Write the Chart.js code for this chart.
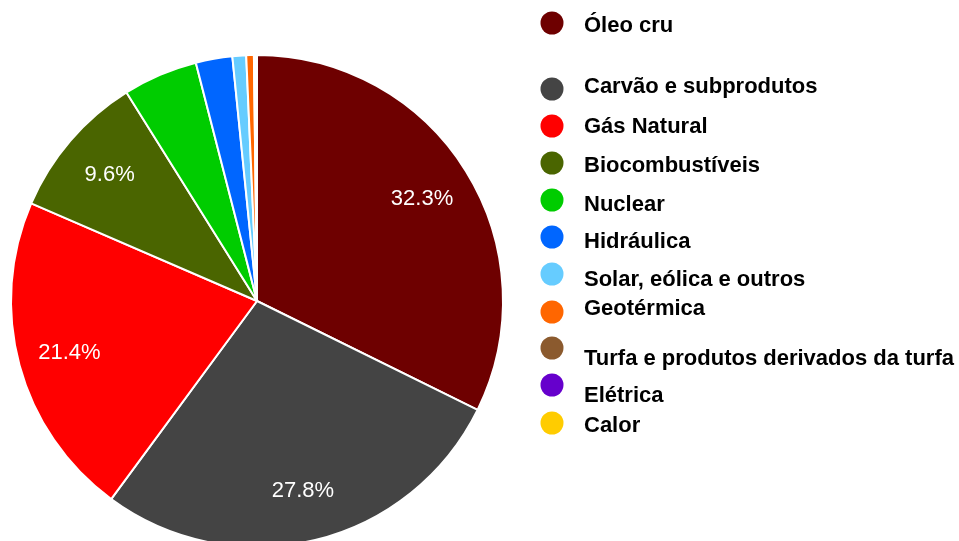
<!DOCTYPE html>
<html lang="pt">
<head>
<meta charset="utf-8">
<title>Matriz energética</title>
<script src="https://cdn.jsdelivr.net/npm/chart.js@4"></script>
<style>
  html, body { margin: 0; padding: 0; background: #fff; overflow: hidden; }
  #wrap { position: absolute; left: 0; top: 0; width: 959px; height: 600px; }
</style>
</head>
<body>
<div id="wrap"><canvas id="pizza"></canvas></div>
<script>
// Fontes de energia e participação (%)
const fontes = [
  'Óleo cru', 'Carvão e subprodutos', 'Gás Natural', 'Biocombustíveis',
  'Nuclear', 'Hidráulica', 'Solar, eólica e outros', 'Geotérmica',
  'Turfa e produtos derivados da turfa', 'Elétrica', 'Calor'
];
const participacao = [32.3, 27.8, 21.4, 9.6, 4.9, 2.4, 0.9, 0.5, 0.1, 0.05, 0.05];
const cores = [
  '#6e0000', '#444444', '#ff0000', '#4a6500', '#00cc00', '#0066ff',
  '#66ccff', '#ff6600', '#8b5a2e', '#6600cc', '#ffcc00'
];

// legenda: centro da bolinha e linha de base do texto, por item
const legX = 552, legTxtX = 584, legR = 11.5;
const legBolaY  = [23, 89, 126, 163, 200, 237, 274, 312, 348, 385, 423];
const legTextoY = [32, 93, 133, 172, 211, 248, 286, 315, 365, 402, 432];

const FONTE = '"Liberation Sans", Arial, sans-serif';

// rótulos de porcentagem dentro das fatias maiores
const rotulos = {
  id: 'rotulos',
  afterDatasetsDraw(chart) {
    const ctx = chart.ctx;
    const meta = chart.getDatasetMeta(0);
    ctx.save();
    ctx.font = '22px ' + FONTE;
    ctx.fillStyle = '#ffffff';
    ctx.textAlign = 'center';
    ctx.textBaseline = 'middle';
    meta.data.forEach((arc, i) => {
      const v = participacao[i];
      if (v < 9) return;
      const a = (arc.startAngle + arc.endAngle) / 2;
      const r = arc.outerRadius * 0.79;
      ctx.fillText(v.toFixed(1) + '%', arc.x + Math.cos(a) * r, arc.y + Math.sin(a) * r + 1);
    });
    ctx.restore();
  }
};

// legenda desenhada à direita da pizza
const legenda = {
  id: 'legenda',
  afterDraw(chart) {
    const ctx = chart.ctx;
    ctx.save();
    ctx.font = 'bold 22px ' + FONTE;
    ctx.textAlign = 'left';
    ctx.textBaseline = 'alphabetic';
    fontes.forEach((nome, i) => {
      ctx.beginPath();
      ctx.arc(legX, legBolaY[i], legR, 0, Math.PI * 2);
      ctx.fillStyle = cores[i];
      ctx.fill();
      ctx.fillStyle = '#000000';
      ctx.fillText(nome, legTxtX, legTextoY[i]);
    });
    ctx.restore();
  }
};

new Chart(document.getElementById('pizza'), {
  type: 'pie',
  data: {
    labels: fontes,
    datasets: [{
      data: participacao,
      backgroundColor: cores,
      borderColor: '#ffffff',
      borderWidth: 2
    }]
  },
  options: {
    responsive: true,
    maintainAspectRatio: false,
    animation: false,
    events: [],
    layout: { padding: { left: 10, top: 54, right: 455, bottom: 52 } },
    plugins: {
      legend: { display: false },
      tooltip: { enabled: false }
    }
  },
  plugins: [rotulos, legenda]
});
</script>
</body>
</html>
